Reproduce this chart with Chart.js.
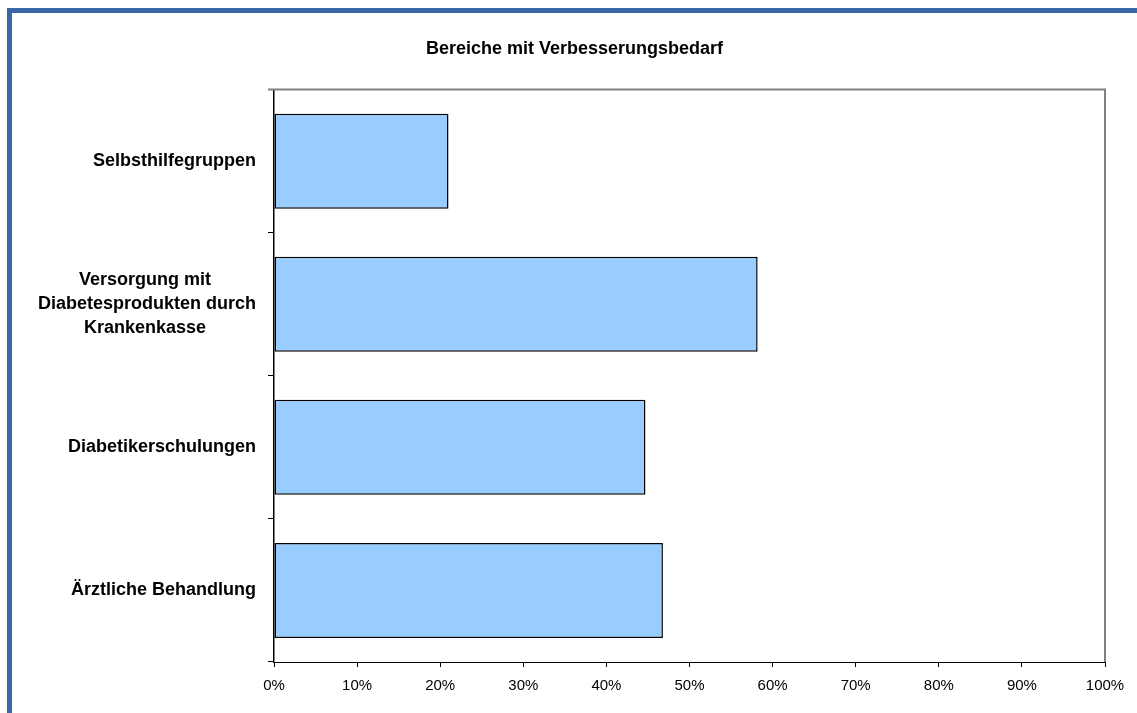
<!DOCTYPE html>
<html lang="de">
<head>
  <meta charset="UTF-8">
  <title>Bereiche mit Verbesserungsbedarf</title>
  <script src="https://cdn.jsdelivr.net/npm/chart.js"></script>
  <style>
    html, body { margin: 0; padding: 0; background: #fff; overflow: hidden; }
    .rahmen {
      position: absolute; left: 7px; top: 8px; width: 1300px; height: 900px;
      border-left: 5px solid #3A67A8; border-top: 5px solid #3A67A8;
    }
    #grafik { position: absolute; left: 12px; top: 13px; }
  </style>
</head>
<body>
  <div class="rahmen"></div>
  <canvas id="grafik" width="1125" height="700"></canvas>
  <script>
    // Daten
    const titel = 'Bereiche mit Verbesserungsbedarf';
    const bereiche = [
      'Selbsthilfegruppen',
      ['Versorgung mit', 'Diabetesprodukten durch', 'Krankenkasse'],
      'Diabetikerschulungen',
      'Ärztliche Behandlung'
    ];
    const anteile = [21.0, 58.2, 44.7, 46.8];
    const achseMin = 0;
    const achseMax = 100;
    const schritt = 10;

    const schrift = '"Liberation Sans", Arial, sans-serif';
    const labelFont = { family: schrift, size: 18, weight: 'bold', lineHeight: 1.33 };

    // mehrzeilige Beschriftung: Zeilen untereinander zentrieren (rechtsbündiger Block)
    const mess = document.createElement('canvas').getContext('2d');
    function zentriert(label) {
      if (!Array.isArray(label)) return label;
      mess.font = 'bold 18px ' + schrift;
      const breit = Math.max(...label.map(z => mess.measureText(z).width));
      const leer = mess.measureText('\u00A0').width;
      return label.map(z => {
        const n = Math.round((breit - mess.measureText(z).width) / 2 / leer);
        return z + '\u00A0'.repeat(n);
      });
    }

    // graue Linie oben und rechts am Zeichenbereich
    const rahmenPlugin = {
      id: 'rahmenPlugin',
      afterDraw(chart) {
        const { ctx, chartArea: a } = chart;
        ctx.save();
        ctx.strokeStyle = '#808080';
        ctx.lineWidth = 2;
        ctx.beginPath();
        ctx.moveTo(a.left - 6, a.top);
        ctx.lineTo(a.right, a.top);
        ctx.lineTo(a.right, a.bottom);
        ctx.stroke();
        ctx.restore();
      }
    };

    new Chart(document.getElementById('grafik'), {
      type: 'bar',
      data: {
        labels: bereiche,
        datasets: [{
          data: anteile,
          backgroundColor: '#99CCFF',
          borderColor: '#000',
          borderWidth: 1.5,
          borderSkipped: false,
          barPercentage: 0.664,
          categoryPercentage: 1
        }]
      },
      options: {
        indexAxis: 'y',
        responsive: false,
        animation: false,
        layout: { padding: 0 },
        plugins: {
          legend: { display: false },
          tooltip: { enabled: false },
          title: {
            display: true,
            text: titel,
            color: '#000',
            font: { family: schrift, size: 18, weight: 'bold' },
            padding: { top: 25, bottom: 30 }
          }
        },
        scales: {
          x: {
            min: achseMin,
            max: achseMax,
            afterFit(s) { s.height = 51; },
            ticks: {
              stepSize: schritt,
              color: '#000',
              font: { family: schrift, size: 15 },
              padding: 10,
              maxRotation: 0,
              callback: v => v + '%'
            },
            grid: { drawOnChartArea: false, tickLength: 5, color: '#000' },
            border: { color: '#000', width: 1 }
          },
          y: {
            afterFit(s) { s.width = 262; },
            ticks: {
              color: '#000',
              font: labelFont,
              padding: 12,
              callback(v) { return zentriert(this.getLabelForValue(v)); }
            },
            grid: { drawOnChartArea: false, tickLength: 6, color: '#000', offset: true },
            border: { color: '#000', width: 1.5 }
          },
          // leerer Rand rechts, damit der Titel über die ganze Breite zentriert bleibt
          rand: {
            axis: 'y',
            position: 'right',
            afterFit(s) { s.width = 32; },
            ticks: { display: false },
            grid: { display: false },
            border: { display: false }
          }
        }
      },
      plugins: [rahmenPlugin]
    });
  </script>
</body>
</html>
